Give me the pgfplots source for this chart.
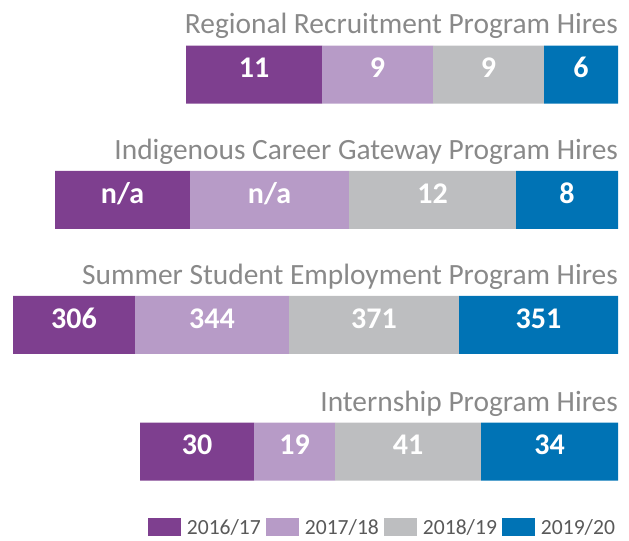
\documentclass[border=0pt]{standalone}
\usepackage{pgfplots}
\pgfplotsset{compat=1.18}
\usepackage{fontspec}
\setmainfont{Carlito}
\definecolor{c1}{HTML}{7E3F8F}
\definecolor{c2}{HTML}{B79BC7}
\definecolor{c3}{HTML}{BDBEC0}
\definecolor{c4}{HTML}{0073B5}
\definecolor{tgray}{HTML}{898989}
\definecolor{lgray}{HTML}{595959}
\tikzset{
  lab/.style={anchor=center, inner sep=0pt, text=white,
    font=\fontsize{30bp}{31bp}\selectfont\bfseries, text height=0.63em, text depth=0pt},
  ttl/.style={anchor=base east, inner sep=0pt, text=tgray,
    font=\fontsize{29.4bp}{30bp}\selectfont},
}
\begin{document}
\begin{tikzpicture}
\begin{axis}[
  width=629bp, height=541bp, scale only axis,
  xbar stacked, bar width=58bp,
  xmin=-618, xmax=11, ymin=0, ymax=541,
  hide axis, clip=false,
  legend image code/.code={\fill[#1] (0bp,-9bp) rectangle (33bp,9bp);},
  reverse legend,
  legend columns=4,
  legend style={draw=none, fill=none, at={(0.978,0.008)}, anchor=south east,
    font=\fontsize{21.6bp}{22bp}\selectfont, text=lgray, inner sep=0pt,
    nodes={inner xsep=0pt, inner ysep=0pt},
    /tikz/every odd column/.append style={column sep=6bp},
    /tikz/every even column/.append style={column sep=5bp}},
]
\addplot[fill=c4, draw=none] table[x expr=-\thisrow{w}, y=y] {
y w
466.3 74
341 102
216 159
89.3 137
};
\addlegendentry{2019/20}
\addplot[fill=c3, draw=none] table[x expr=-\thisrow{w}, y=y] {
y w
466.3 111
341 167
216 170
89.3 146
};
\addlegendentry{2018/19}
\addplot[fill=c2, draw=none] table[x expr=-\thisrow{w}, y=y] {
y w
466.3 111
341 159
216 154
89.3 81
};
\addlegendentry{2017/18}
\addplot[fill=c1, draw=none] table[x expr=-\thisrow{w}, y=y] {
y w
466.3 136
341 135
216 122
89.3 114
};
\addlegendentry{2016/17}
\coordinate (a1) at (axis cs:-37,466.3);
\coordinate (a2) at (axis cs:-129.5,466.3);
\coordinate (a3) at (axis cs:-240.5,466.3);
\coordinate (a4) at (axis cs:-364,466.3);
\coordinate (b1) at (axis cs:-51,341);
\coordinate (b2) at (axis cs:-185.5,341);
\coordinate (b3) at (axis cs:-348.5,341);
\coordinate (b4) at (axis cs:-495.5,341);
\coordinate (c1) at (axis cs:-79.5,216);
\coordinate (c2) at (axis cs:-244,216);
\coordinate (c3) at (axis cs:-406,216);
\coordinate (c4) at (axis cs:-544,216);
\coordinate (d1) at (axis cs:-68.5,89.3);
\coordinate (d2) at (axis cs:-210,89.3);
\coordinate (d3) at (axis cs:-323.5,89.3);
\coordinate (d4) at (axis cs:-421,89.3);
\node[ttl] at (axis cs:0,507) {Regional Recruitment Program Hires};
\node[ttl] at (axis cs:0,381) {Indigenous Career Gateway Program Hires};
\node[ttl] at (axis cs:0,256) {Summer Student Employment Program Hires};
\node[ttl] at (axis cs:0,129) {Internship Program Hires};
\end{axis}
\node[lab] at (a1) {6};
\node[lab] at (a2) {9};
\node[lab] at (a3) {9};
\node[lab] at (a4) {11};
\node[lab] at (b1) {8};
\node[lab] at (b2) {12};
\node[lab] at (b3) {n/a};
\node[lab] at (b4) {n/a};
\node[lab] at (c1) {351};
\node[lab] at (c2) {371};
\node[lab] at (c3) {344};
\node[lab] at (c4) {306};
\node[lab] at (d1) {34};
\node[lab] at (d2) {41};
\node[lab] at (d3) {19};
\node[lab] at (d4) {30};
\pgfresetboundingbox
\useasboundingbox (current axis.south west) rectangle (current axis.north east);
\end{tikzpicture}
\end{document}
